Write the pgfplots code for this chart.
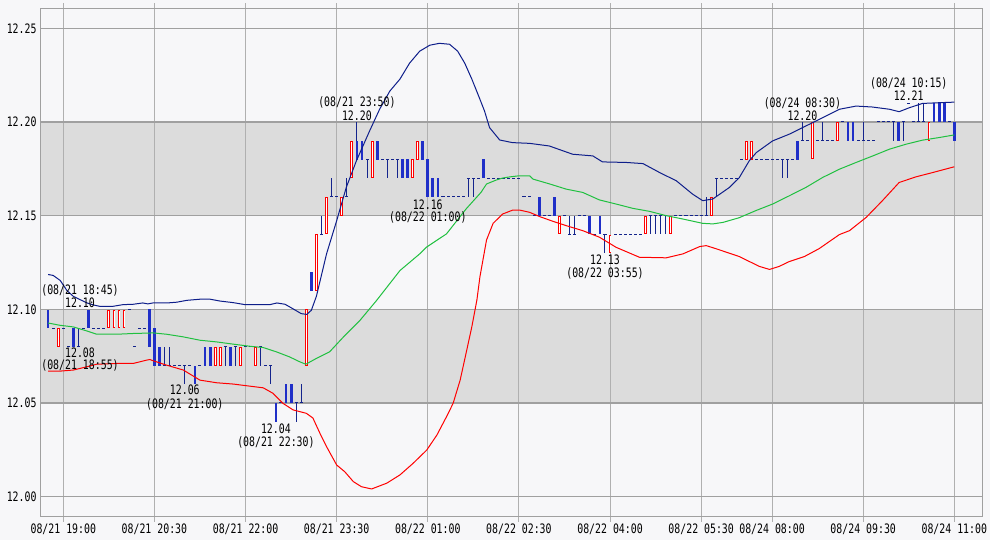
\documentclass[border=0pt]{standalone}
\usepackage{pgfplots}
\pgfplotsset{compat=1.18}
\usepackage{pgfplotstable}
\usepackage{fontspec}
\newfontfamily\gothic[FakeStretch=0.76]{DejaVu Sans Mono}
\newcommand\lab{\gothic\fontsize{13}{13}\selectfont}
\definecolor{pagebg}{HTML}{F7F7F9}
\definecolor{band}{HTML}{DCDCDC}
\definecolor{gridc}{HTML}{A0A0A0}
\definecolor{vgrid}{HTML}{B0B0B0}
\definecolor{bluebar}{HTML}{1F2FC8}
\definecolor{navy}{HTML}{14248C}
\definecolor{upc}{HTML}{0E1E8A}
\definecolor{midc}{HTML}{20C040}
\definecolor{lowc}{HTML}{FF0000}
\pagecolor{pagebg}
\pgfplotsset{candle/.style={only marks, mark=*, mark size=0pt, mark options={draw=none, fill=none}}}

% bearish bars (close < open)
\pgfplotstableread{
i o h l c
0 12.10 12.10 12.09 12.09
5 12.09 12.09 12.08 12.08
8 12.10 12.10 12.09 12.09
20 12.10 12.10 12.08 12.08
21 12.09 12.09 12.07 12.07
22 12.08 12.08 12.07 12.07
29 12.07 12.07 12.06 12.06
31 12.08 12.08 12.07 12.07
32 12.08 12.08 12.07 12.07
36 12.08 12.08 12.07 12.07
45 12.05 12.05 12.04 12.04
47 12.06 12.06 12.05 12.05
48 12.06 12.06 12.05 12.05
52 12.12 12.12 12.11 12.11
61 12.19 12.20 12.18 12.18
62 12.19 12.19 12.18 12.18
65 12.19 12.19 12.18 12.18
70 12.18 12.18 12.17 12.17
71 12.18 12.18 12.17 12.17
74 12.19 12.19 12.18 12.18
75 12.18 12.18 12.16 12.16
76 12.17 12.17 12.16 12.16
77 12.17 12.17 12.16 12.16
86 12.18 12.18 12.17 12.17
97 12.16 12.16 12.15 12.15
100 12.16 12.16 12.15 12.15
107 12.15 12.15 12.14 12.14
109 12.15 12.15 12.14 12.14
148 12.19 12.19 12.18 12.18
158 12.20 12.20 12.19 12.19
159 12.20 12.20 12.19 12.19
168 12.20 12.20 12.19 12.19
175 12.21 12.21 12.20 12.20
176 12.21 12.21 12.20 12.20
177 12.21 12.21 12.20 12.20
179 12.20 12.20 12.19 12.19
}\tblbear

% bullish bars (close > open)
\pgfplotstableread{
i o h l c
2 12.08 12.09 12.08 12.09
12 12.09 12.10 12.09 12.10
13 12.09 12.10 12.09 12.10
14 12.09 12.10 12.09 12.10
15 12.09 12.10 12.09 12.10
33 12.07 12.08 12.07 12.08
34 12.07 12.08 12.07 12.08
38 12.07 12.08 12.07 12.08
41 12.07 12.08 12.07 12.08
51 12.07 12.10 12.07 12.10
53 12.11 12.14 12.11 12.14
55 12.14 12.16 12.14 12.16
58 12.15 12.16 12.15 12.16
60 12.17 12.19 12.17 12.19
64 12.17 12.19 12.17 12.19
72 12.17 12.18 12.17 12.18
73 12.18 12.19 12.18 12.19
101 12.14 12.15 12.14 12.15
111 12.13 12.14 12.13 12.14
118 12.14 12.15 12.14 12.15
123 12.14 12.15 12.14 12.15
131 12.15 12.16 12.15 12.16
138 12.18 12.19 12.18 12.19
139 12.18 12.19 12.18 12.19
151 12.18 12.20 12.18 12.20
156 12.19 12.20 12.19 12.20
174 12.19 12.20 12.19 12.20
}\tblbull

% bars with open = close
\pgfplotstableread{
i c h l
1 12.09 12.09 12.09
3 12.09 12.09 12.09
4 12.08 12.08 12.08
6 12.08 12.09 12.08
7 12.09 12.09 12.09
9 12.09 12.09 12.09
10 12.09 12.09 12.09
11 12.09 12.09 12.09
16 12.10 12.10 12.10
17 12.08 12.08 12.08
18 12.09 12.09 12.09
19 12.09 12.09 12.09
23 12.07 12.08 12.07
24 12.07 12.08 12.07
25 12.07 12.07 12.07
26 12.07 12.07 12.07
27 12.07 12.07 12.06
28 12.07 12.07 12.07
30 12.07 12.07 12.07
35 12.08 12.08 12.07
37 12.08 12.08 12.07
39 12.08 12.08 12.08
40 12.08 12.08 12.08
42 12.08 12.08 12.07
43 12.07 12.07 12.07
44 12.07 12.07 12.06
46 12.05 12.05 12.05
49 12.05 12.05 12.04
50 12.05 12.06 12.05
54 12.14 12.15 12.14
56 12.16 12.17 12.16
57 12.16 12.16 12.16
59 12.16 12.17 12.16
63 12.18 12.18 12.17
66 12.18 12.18 12.18
67 12.18 12.18 12.17
68 12.18 12.18 12.18
69 12.18 12.18 12.17
78 12.16 12.16 12.16
79 12.16 12.16 12.16
80 12.16 12.16 12.16
81 12.16 12.16 12.16
82 12.16 12.16 12.16
83 12.17 12.17 12.16
84 12.17 12.17 12.16
85 12.17 12.17 12.17
87 12.17 12.17 12.17
88 12.17 12.17 12.17
89 12.17 12.17 12.17
90 12.17 12.17 12.17
91 12.17 12.17 12.17
92 12.17 12.17 12.17
93 12.17 12.17 12.17
94 12.16 12.16 12.16
95 12.16 12.16 12.16
96 12.15 12.15 12.15
98 12.15 12.15 12.15
99 12.15 12.15 12.15
102 12.15 12.15 12.15
103 12.14 12.15 12.14
104 12.14 12.15 12.14
105 12.15 12.15 12.15
106 12.15 12.15 12.15
108 12.14 12.14 12.14
110 12.14 12.14 12.13
112 12.14 12.14 12.14
113 12.14 12.14 12.14
114 12.14 12.14 12.14
115 12.14 12.14 12.14
116 12.14 12.14 12.14
117 12.14 12.14 12.14
119 12.15 12.15 12.14
120 12.15 12.15 12.14
121 12.15 12.15 12.14
122 12.15 12.15 12.14
124 12.15 12.15 12.15
125 12.15 12.15 12.15
126 12.15 12.15 12.15
127 12.15 12.15 12.15
128 12.15 12.15 12.15
129 12.15 12.15 12.15
130 12.15 12.16 12.15
132 12.17 12.17 12.16
133 12.17 12.17 12.17
134 12.17 12.17 12.17
135 12.17 12.17 12.17
136 12.17 12.17 12.17
137 12.18 12.18 12.18
140 12.18 12.18 12.18
141 12.18 12.18 12.18
142 12.18 12.18 12.18
143 12.18 12.18 12.18
144 12.18 12.18 12.18
145 12.18 12.18 12.17
146 12.18 12.18 12.17
147 12.18 12.18 12.18
149 12.19 12.20 12.19
150 12.19 12.19 12.19
152 12.19 12.19 12.19
153 12.19 12.20 12.19
154 12.19 12.19 12.19
155 12.19 12.19 12.19
157 12.20 12.20 12.20
160 12.19 12.19 12.19
161 12.19 12.20 12.19
162 12.19 12.19 12.19
163 12.19 12.19 12.19
164 12.20 12.20 12.20
165 12.20 12.20 12.20
166 12.20 12.20 12.20
167 12.20 12.20 12.19
169 12.20 12.20 12.19
170 12.21 12.21 12.21
171 12.20 12.20 12.20
172 12.20 12.21 12.20
173 12.20 12.21 12.20
178 12.20 12.20 12.20
}\tblflat

\pgfplotstableread{
i p
0 12.1186
1 12.1181
2.4 12.1154
3.7 12.1101
5 12.1069
6.3 12.1052
7.7 12.1034
9 12.1023
10.2 12.1016
12.8 12.1016
14.8 12.1025
16.8 12.1027
18.7 12.1034
19.7 12.1029
20.7 12.1034
23.5 12.1034
25.4 12.1038
27.4 12.1048
30 12.1054
32 12.1054
34 12.1044
36.5 12.1036
38.9 12.1025
43.8 12.1025
45.2 12.1034
46.8 12.1027
48.3 12.1004
50 12.0977
51.1 12.0973
52 12.0995
53 12.1070
55 12.1296
57 12.1473
58.9 12.1651
60.9 12.1793
63.5 12.1952
65.5 12.2069
67.5 12.2165
69.5 12.2229
71.4 12.2314
73.4 12.2378
75.4 12.2410
77.3 12.2420
79.3 12.2415
80.9 12.2378
82.3 12.2314
83.7 12.2229
85.2 12.2128
86.2 12.2059
87.2 12.1970
89.2 12.1904
91.7 12.1890
95.1 12.1886
99 12.1872
103.6 12.1828
107.6 12.1819
109.5 12.1787
114.2 12.1784
117.5 12.1778
120.8 12.1730
124.1 12.1686
127.3 12.1615
129.3 12.1580
131.3 12.1589
134.6 12.1651
136.5 12.1702
138.5 12.1793
139.9 12.1837
143.1 12.1899
146.4 12.1935
149.7 12.1979
153 12.2023
156.3 12.2068
159.6 12.2085
162.8 12.2080
166.2 12.2068
168.1 12.2055
170.1 12.2076
172.7 12.2099
176 12.2103
179 12.2106
}\tblup

\pgfplotstableread{
i p
0 12.0927
2.3 12.0915
5 12.0906
7.6 12.0885
9.6 12.0867
13.5 12.0867
16.8 12.0871
20.8 12.0874
23.4 12.0867
26.7 12.0853
30 12.0835
33.3 12.0826
36.6 12.0814
39.8 12.0803
42.5 12.0796
45.1 12.0773
47.7 12.0746
49.7 12.0720
50.9 12.0707
53 12.0738
55.6 12.0773
58.6 12.0860
61.6 12.0941
64.9 12.1048
69.5 12.1207
73.4 12.1296
74.7 12.1331
78.7 12.1403
82.6 12.1537
85.5 12.1624
86.6 12.1669
88.5 12.1690
89.8 12.1701
91.2 12.1707
93.1 12.1713
95.1 12.1713
95.8 12.1695
99.1 12.1669
102.3 12.1642
105.6 12.1624
108.9 12.1584
112.2 12.1562
115.5 12.1539
118.8 12.1523
122.1 12.1500
125.4 12.1482
129.3 12.1459
131.3 12.1456
133.3 12.1464
136.5 12.1489
139.8 12.1527
143.1 12.1562
146.4 12.1606
149.7 12.1651
153 12.1704
156.3 12.1748
159.6 12.1784
162.9 12.1819
166.2 12.1855
169.4 12.1881
172.7 12.1903
176 12.1917
179 12.1931
}\tblmid

\pgfplotstableread{
i p
0 12.0670
2.3 12.0670
5 12.0676
7.6 12.0693
9.6 12.0707
13.5 12.0711
16.8 12.0711
19.5 12.0729
20.1 12.0732
20.8 12.0725
23.4 12.0702
26.7 12.0676
30 12.0622
33.3 12.0608
36.6 12.0601
39.8 12.0590
42.5 12.0581
44.4 12.0552
46.4 12.0498
48.4 12.0463
51 12.0445
52.3 12.0420
53.7 12.0338
55.0 12.0267
57.0 12.0169
58.6 12.0133
60.3 12.0080
61.9 12.0053
63.9 12.0041
66.9 12.0072
69.5 12.0116
72.1 12.0178
74.8 12.0249
76.8 12.0329
78.7 12.0427
80.0 12.0498
81.4 12.0623
82.7 12.0783
83.7 12.0907
84.7 12.1050
85.3 12.1174
86.6 12.1370
87.9 12.1459
89.8 12.1509
91.8 12.1530
93.1 12.1530
95.1 12.1518
97.1 12.1495
99.7 12.1470
102.3 12.1447
105.6 12.1420
108.9 12.1385
112.2 12.1331
116.8 12.1278
122.1 12.1275
125.4 12.1296
128.7 12.1335
130 12.1340
132 12.1323
136.5 12.1282
140.5 12.1229
142.5 12.1213
144.4 12.1229
146.4 12.1255
149.4 12.1282
152.3 12.1324
156.3 12.1399
158.3 12.1420
161.6 12.1491
164.8 12.1580
168.1 12.1677
171.4 12.1707
174.7 12.1730
179 12.1761
}\tbllow

\begin{document}
\begin{tikzpicture}
\begin{axis}[
  at={(40.3pt,23.3pt)}, anchor=south west,
  scale only axis, width=942pt, height=508.4pt,
  set layers, clip mode=individual,
  xmin=-1.54, xmax=184.53, ymin=11.9893, ymax=12.2607,
  axis background/.style={fill=pagebg},
  axis line style={draw=gridc, line width=1.2pt},
  xtick={3,21,39,57,75,93,111,129,143,161,179},
  xticklabels={08/21 19:00,08/21 20:30,08/21 22:00,08/21 23:30,08/22 01:00,08/22 02:30,08/22 04:00,08/22 05:30,08/24 08:00,08/24 09:30,08/24 11:00},
  ytick={12.00,12.05,12.10,12.15,12.20,12.25},
  yticklabels={12.00,12.05,12.10,12.15,12.20,12.25},
  grid=major,
  x grid style={draw=vgrid, line width=1pt},
  y grid style={draw=gridc, line width=1.3pt},
  tick align=outside, major tick length=5pt,
  xtick style={draw=vgrid, line width=1pt},
  ytick style={draw=none},
  tick label style={font=\lab, inner sep=0pt},
  xticklabel style={yshift=-2pt},
  yticklabel style={xshift=1.4pt},
]
% shaded bands
\addplot[on layer=axis background, fill=band, draw=none] coordinates {(-1.54,12.05) (184.53,12.05) (184.53,12.10) (-1.54,12.10)};
\addplot[on layer=axis background, fill=band, draw=none] coordinates {(-1.54,12.15) (184.53,12.15) (184.53,12.20) (-1.54,12.20)};

% wicks of flat bars
\addplot[candle, error bars/.cd, y dir=both, y explicit, error mark=none,
  error bar style={line width=1pt, draw=navy}]
  table[x=i, y expr={(\thisrow{h}+\thisrow{l})/2}, y error expr={(\thisrow{h}-\thisrow{l})/2}] {\tblflat};
% close ticks of flat bars
\addplot[candle, error bars/.cd, x dir=both, x fixed=0.3, error mark=none,
  error bar style={line width=1pt, draw=navy}]
  table[x=i, y=c] {\tblflat};
% wicks of bearish bars
\addplot[candle, error bars/.cd, y dir=both, y explicit, error mark=none,
  error bar style={line width=1pt, draw=navy}]
  table[x=i, y expr={(\thisrow{h}+\thisrow{l})/2}, y error expr={(\thisrow{h}-\thisrow{l})/2}] {\tblbear};
% bearish bodies
\addplot[candle, error bars/.cd, y dir=both, y explicit, error mark=none,
  error bar style={line width=2.8pt, draw=bluebar}]
  table[x=i, y expr={(\thisrow{o}+\thisrow{c})/2}, y error expr={(\thisrow{o}-\thisrow{c})/2}] {\tblbear};
% bullish bodies: red outline, white inside
\addplot[candle, error bars/.cd, y dir=both, y explicit, error mark=none,
  error bar style={line width=2.8pt, draw=lowc}]
  table[x=i, y expr={(\thisrow{o}+\thisrow{c})/2}, y error expr={(\thisrow{c}-\thisrow{o})/2}] {\tblbull};
\addplot[candle, error bars/.cd, y dir=both, y explicit, error mark=none,
  error bar style={line width=0.8pt, draw=white}]
  table[x=i, y expr={(\thisrow{o}+\thisrow{c})/2}, y error expr={(\thisrow{c}-\thisrow{o})/2-0.00053}] {\tblbull};

% bands
\addplot[draw=upc, line width=1pt, mark=none] table[x=i, y=p] {\tblup};
\addplot[draw=midc, line width=1pt, mark=none] table[x=i, y=p] {\tblmid};
\addplot[draw=lowc, line width=1pt, mark=none] table[x=i, y=p] {\tbllow};

% annotations
\node[font=\lab] at (axis cs:6.3,12.1103) {(08/21 18:45)};
\node[font=\lab] at (axis cs:6.3,12.1037) {12.10};
\node[font=\lab] at (axis cs:6.3,12.0767) {12.08};
\node[font=\lab] at (axis cs:6.3,12.0698) {(08/21 18:55)};
\node[font=\lab] at (axis cs:27,12.0569) {12.06};
\node[font=\lab] at (axis cs:27,12.0495) {(08/21 21:00)};
\node[font=\lab] at (axis cs:45,12.0364) {12.04};
\node[font=\lab] at (axis cs:45,12.0292) {(08/21 22:30)};
\node[font=\lab] at (axis cs:61,12.2104) {(08/21 23:50)};
\node[font=\lab] at (axis cs:61,12.2035) {12.20};
\node[font=\lab] at (axis cs:75,12.1560) {12.16};
\node[font=\lab] at (axis cs:75,12.1493) {(08/22 01:00)};
\node[font=\lab] at (axis cs:110,12.1266) {12.13};
\node[font=\lab] at (axis cs:110,12.1194) {(08/22 03:55)};
\node[font=\lab] at (axis cs:149,12.2101) {(08/24 08:30)};
\node[font=\lab] at (axis cs:149,12.2035) {12.20};
\node[font=\lab] at (axis cs:170,12.2208) {(08/24 10:15)};
\node[font=\lab] at (axis cs:170,12.2139) {12.21};
\end{axis}
\path (0,0) rectangle (990pt,540pt);
\end{tikzpicture}
\end{document}
